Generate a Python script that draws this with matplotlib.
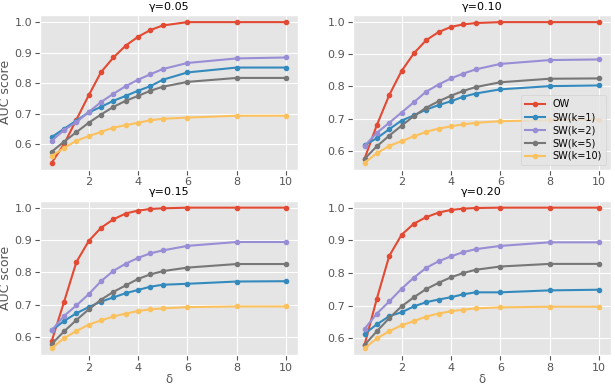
import matplotlib
matplotlib.use("Agg")
import matplotlib.pyplot as plt

plt.style.use("ggplot")

# x positions (delta)
delta = [0.5, 1, 1.5, 2, 2.5, 3, 3.5, 4, 4.5, 5, 6, 8, 10]

gammas = ["0.05", "0.10", "0.15", "0.20"]
labels = ["OW", "SW(k=1)", "SW(k=2)", "SW(k=5)", "SW(k=10)"]
colors = ["#E24A33", "#348ABD", "#988ED5", "#777777", "#FBC15E"]

# gamma = 0.05
ow_005 = [0.539, 0.600, 0.680, 0.760, 0.836, 0.884, 0.923, 0.952, 0.974, 0.989, 1.0, 1.0, 1.0]
sw1_005 = [0.623, 0.650, 0.677, 0.704, 0.722, 0.742, 0.758, 0.775, 0.790, 0.811, 0.835, 0.851, 0.851]
sw2_005 = [0.611, 0.646, 0.672, 0.705, 0.738, 0.765, 0.790, 0.811, 0.829, 0.846, 0.866, 0.881, 0.884]
sw5_005 = [0.575, 0.608, 0.639, 0.670, 0.697, 0.722, 0.742, 0.758, 0.775, 0.788, 0.804, 0.817, 0.817]
sw10_005 = [0.561, 0.587, 0.611, 0.626, 0.640, 0.654, 0.662, 0.670, 0.678, 0.683, 0.687, 0.693, 0.693]

# gamma = 0.10
ow_010 = [0.575, 0.680, 0.773, 0.848, 0.903, 0.944, 0.969, 0.985, 0.993, 0.997, 1.0, 1.0, 1.0]
sw1_010 = [0.618, 0.639, 0.667, 0.694, 0.710, 0.728, 0.742, 0.754, 0.768, 0.778, 0.791, 0.801, 0.803]
sw2_010 = [0.615, 0.656, 0.687, 0.719, 0.751, 0.784, 0.806, 0.825, 0.840, 0.853, 0.870, 0.882, 0.884]
sw5_010 = [0.575, 0.614, 0.647, 0.678, 0.708, 0.734, 0.754, 0.771, 0.786, 0.798, 0.813, 0.824, 0.825]
sw10_010 = [0.563, 0.592, 0.615, 0.630, 0.645, 0.659, 0.669, 0.676, 0.682, 0.687, 0.692, 0.695, 0.697]

# gamma = 0.15
ow_015 = [0.588, 0.709, 0.832, 0.897, 0.938, 0.964, 0.982, 0.991, 0.996, 0.998, 1.0, 1.0, 1.0]
sw1_015 = [0.621, 0.650, 0.674, 0.693, 0.710, 0.723, 0.736, 0.746, 0.756, 0.762, 0.765, 0.772, 0.773]
sw2_015 = [0.621, 0.666, 0.698, 0.733, 0.773, 0.805, 0.827, 0.845, 0.859, 0.868, 0.882, 0.894, 0.894]
sw5_015 = [0.579, 0.618, 0.653, 0.686, 0.716, 0.740, 0.760, 0.780, 0.794, 0.804, 0.815, 0.826, 0.826]
sw10_015 = [0.566, 0.597, 0.619, 0.639, 0.652, 0.664, 0.673, 0.681, 0.686, 0.689, 0.693, 0.695, 0.695]

# gamma = 0.20
ow_020 = [0.580, 0.722, 0.852, 0.917, 0.951, 0.971, 0.985, 0.993, 0.997, 0.999, 1.0, 1.0, 1.0]
sw1_020 = [0.614, 0.643, 0.668, 0.680, 0.698, 0.711, 0.719, 0.726, 0.735, 0.741, 0.741, 0.747, 0.749]
sw2_020 = [0.629, 0.676, 0.713, 0.752, 0.786, 0.816, 0.836, 0.851, 0.864, 0.873, 0.883, 0.894, 0.894]
sw5_020 = [0.580, 0.622, 0.662, 0.698, 0.726, 0.751, 0.770, 0.787, 0.800, 0.810, 0.820, 0.828, 0.828]
sw10_020 = [0.570, 0.600, 0.622, 0.640, 0.653, 0.667, 0.676, 0.683, 0.688, 0.692, 0.695, 0.697, 0.697]

all_series = [
    [ow_005, sw1_005, sw2_005, sw5_005, sw10_005],
    [ow_010, sw1_010, sw2_010, sw5_010, sw10_010],
    [ow_015, sw1_015, sw2_015, sw5_015, sw10_015],
    [ow_020, sw1_020, sw2_020, sw5_020, sw10_020],
]

fig, axes = plt.subplots(2, 2, figsize=(6.15, 3.87), dpi=100)
fig.subplots_adjust(left=0.065, right=0.993, top=0.961, bottom=0.082,
                    wspace=0.213, hspace=0.2)

for i, ax in enumerate(axes.flat):
    for series, lab, col in zip(all_series[i], labels, colors):
        ax.plot(delta, series, marker="o", markersize=3, linewidth=1.5,
                color=col, label=lab)
    ax.set_title("γ=" + gammas[i], fontsize=8, pad=4)
    ax.tick_params(labelsize=8, pad=2)
    ax.set_xticks([2, 4, 6, 8, 10])
    ax.set_yticks([0.6, 0.7, 0.8, 0.9, 1.0])
    if i % 2 == 0:
        ax.set_ylabel("AUC score", fontsize=9, labelpad=2)
    if i >= 2:
        ax.set_xlabel("δ", fontsize=8.5, labelpad=0)

axes[0, 1].legend(loc="lower right", fontsize=7, labelspacing=0.3,
                  borderpad=0.4, handlelength=2, framealpha=0.8)

plt.savefig("out.png", dpi=100)
plt.close()
